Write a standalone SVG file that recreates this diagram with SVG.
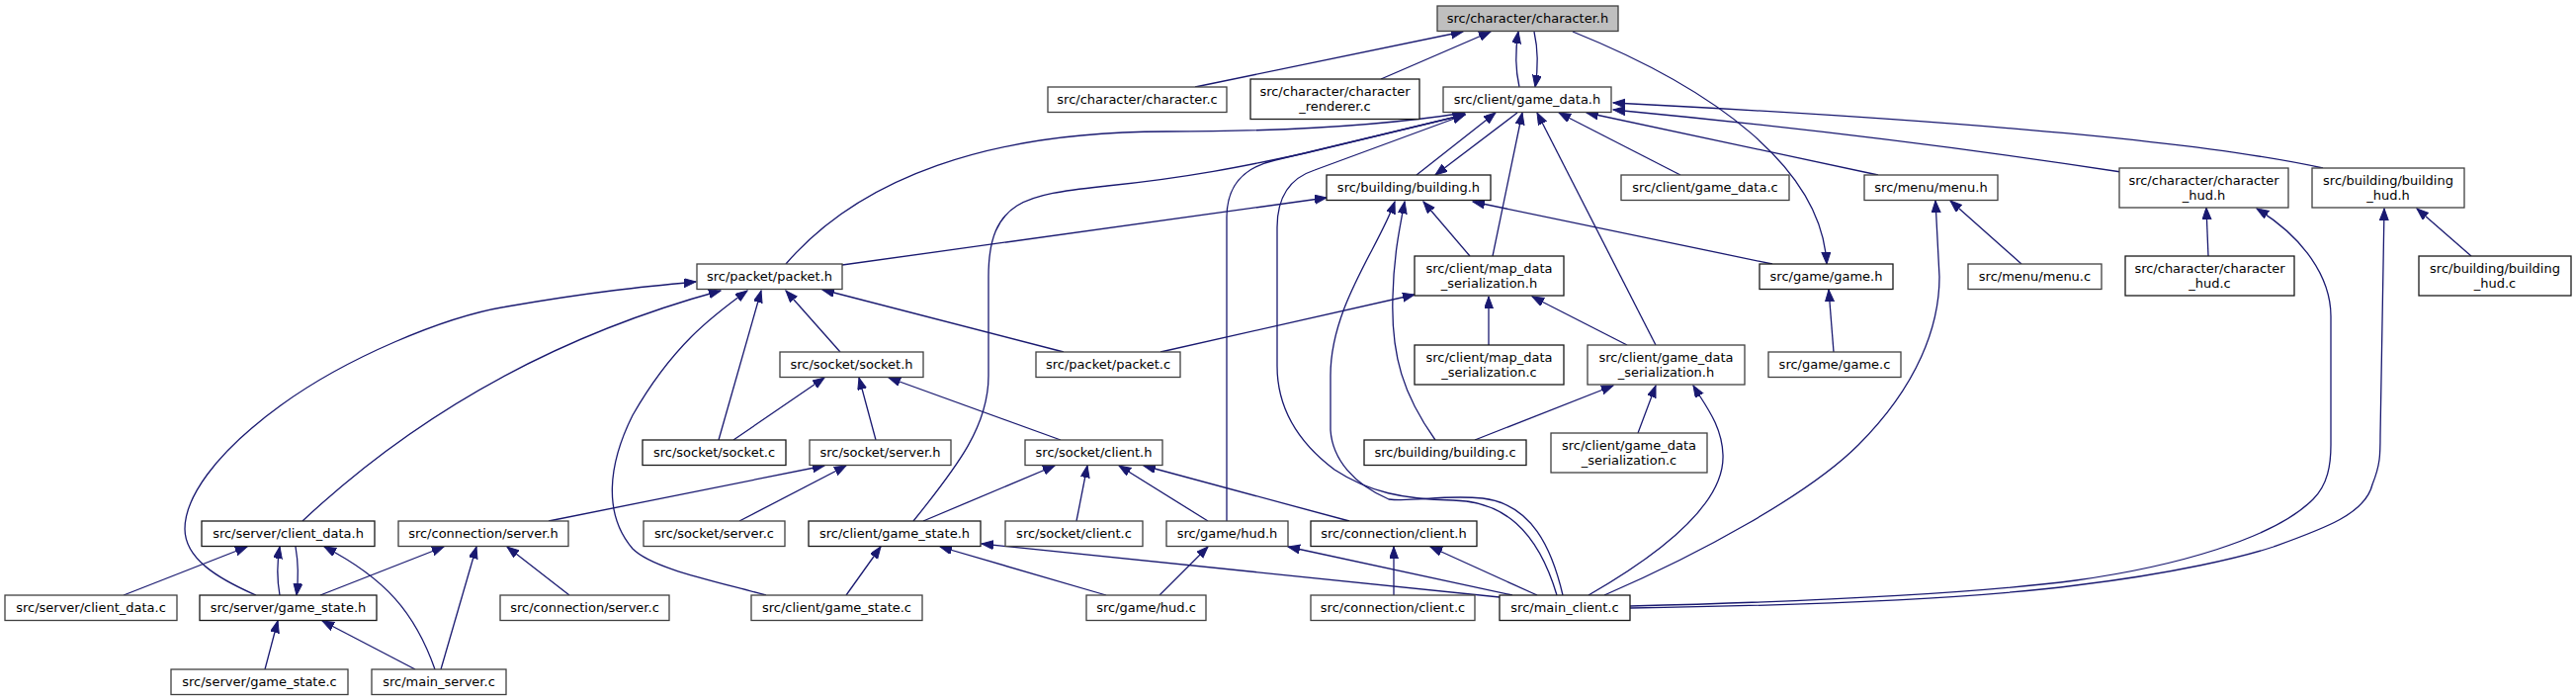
<svg xmlns="http://www.w3.org/2000/svg" width="2606" height="708" viewBox="0 0 2606 708">
<style>
.n rect{fill:#fff;stroke:#404040;stroke-width:1.3}
.n.k rect{stroke:#1a1a1a}
.n.root rect{fill:#bfbfbf}
.n text{font-family:"DejaVu Sans",sans-serif;font-size:13px;fill:#000;text-anchor:middle}
#edges path{fill:none;stroke:#191970;stroke-width:1.3;marker-end:url(#ah)}
</style>
<defs>
<marker id="ah" markerWidth="13" markerHeight="10" refX="12" refY="4.5" orient="auto" markerUnits="userSpaceOnUse">
<path d="M0,0 L12,4.5 L0,9 z" fill="#191970" stroke="#191970" stroke-width="1"/>
</marker>
</defs>
<rect width="2606" height="708" fill="#fff"/>
<g id="edges">
<path d="M1209,88 L1480,32"/>
<path d="M1397,80 L1508,32"/>
<path d="M1537,88 C1533,70 1533,50 1536,32"/>
<path d="M1552,32 C1556,50 1556,70 1553,88"/>
<path d="M1591,32 C1735,90 1843,170 1848,267"/>
<path d="M1433,177 L1513,114"/>
<path d="M1535,114 L1452,177"/>
<path d="M1700,177 L1577,114"/>
<path d="M1900,177 L1605,114"/>
<path d="M2146,174 C1990,150 1800,127 1632,111"/>
<path d="M2350,170 C2250,148 2050,125 1632,104"/>
<path d="M795,267 C870,180 1000,133 1180,133 C1300,133 1400,127 1482,114"/>
<path d="M924,527 C970,470 1000,430 1000,380 L1000,280 C1000,200 1040,197 1120,188 C1200,180 1260,168 1320,155 L1482,116"/>
<path d="M1241,527 L1241,220 C1241,190 1255,170 1290,162 L1482,116"/>
<path d="M1575,602 C1555,535 1520,507 1470,506 C1420,505 1385,498 1350,475 C1310,445 1292,410 1292,370 L1292,230 C1292,200 1305,180 1330,172 L1482,116"/>
<path d="M1510,259 L1540,114"/>
<path d="M1675,349 L1555,114"/>
<path d="M852,268 L1342,200"/>
<path d="M1793,267 L1490,204"/>
<path d="M1487,259 L1440,204"/>
<path d="M1452,445 C1420,400 1407,360 1409,300 C1410,260 1415,235 1421,204"/>
<path d="M1581,602 C1570,555 1550,510 1500,504 C1460,500 1430,508 1405,505 C1370,490 1348,465 1346,435 L1346,380 C1346,310 1395,250 1411,204"/>
<path d="M1174,356 L1431,298"/>
<path d="M1506,349 L1506,300"/>
<path d="M1646,349 L1550,300"/>
<path d="M1492,445 L1632,390"/>
<path d="M1657,438 L1675,390"/>
<path d="M1607,602 C1680,560 1745,510 1743,460 C1742,430 1725,410 1713,390"/>
<path d="M1855,356 L1850,293"/>
<path d="M2045,267 L1973,203"/>
<path d="M1623,602 C1720,560 1830,500 1880,450 C1940,390 1962,330 1962,280 L1958,203"/>
<path d="M2234,259 L2232,210"/>
<path d="M1649,613 C1850,608 2000,600 2100,587 C2200,573 2300,545 2340,505 C2355,490 2358,470 2358,450 L2358,320 C2358,280 2330,240 2283,211"/>
<path d="M1649,615 C1850,612 2000,605 2100,592 C2200,580 2270,563 2300,553 C2350,535 2393,520 2400,490 C2408,470 2408,460 2408,440 L2412,211"/>
<path d="M2500,259 L2445,211"/>
<path d="M259,602 C220,585 187,565 187,535 C187,505 215,460 284,410 C350,362 450,320 513,310 C600,295 650,290 704,285"/>
<path d="M306,527 C420,420 560,340 729,294"/>
<path d="M775,602 C720,587 660,575 640,555 C610,520 615,470 640,420 C680,350 720,320 756,294"/>
<path d="M727,445 L770,294"/>
<path d="M850,356 L795,294"/>
<path d="M1076,356 L832,293"/>
<path d="M742,445 L834,382"/>
<path d="M886,445 L869,382"/>
<path d="M1073,445 L899,382"/>
<path d="M555,527 L834,471"/>
<path d="M748,527 L856,471"/>
<path d="M934,527 L1067,471"/>
<path d="M1089,527 L1100,471"/>
<path d="M1222,527 L1132,471"/>
<path d="M1365,527 L1157,471"/>
<path d="M1410,602 L1410,553"/>
<path d="M1555,602 L1447,553"/>
<path d="M1173,602 L1222,553"/>
<path d="M1530,602 L1303,553"/>
<path d="M856,602 L891,553"/>
<path d="M1119,602 L951,553"/>
<path d="M1517,604 L993,550"/>
<path d="M125,602 L250,553"/>
<path d="M283,602 C280,585 280,570 283,553"/>
<path d="M299,553 C302,570 302,585 300,602"/>
<path d="M440,677 C420,620 390,585 328,553"/>
<path d="M324,602 L449,553"/>
<path d="M446,677 L482,553"/>
<path d="M576,602 L513,553"/>
<path d="M268,677 L281,628"/>
<path d="M420,677 L326,628"/>
</g>
<g id="character_h" class="n root"><rect x="1454" y="6" width="183" height="25.5"/><text x="1545.5" y="23">src/character/character.h</text></g>
<g id="character_c" class="n"><rect x="1060" y="88" width="181" height="25.5"/><text x="1150.5" y="105">src/character/character.c</text></g>
<g id="character_renderer_c" class="n k"><rect x="1265" y="80" width="171" height="40.5"/><text x="1350.5" y="96.5">src/character/character</text><text x="1350.5" y="111.5">_renderer.c</text></g>
<g id="game_data_h" class="n"><rect x="1460" y="88" width="170" height="25.5"/><text x="1545" y="105">src/client/game_data.h</text></g>
<g id="building_h" class="n k"><rect x="1342" y="177" width="166" height="25.5"/><text x="1425" y="194">src/building/building.h</text></g>
<g id="game_data_c" class="n"><rect x="1640" y="177" width="170" height="25.5"/><text x="1725" y="194">src/client/game_data.c</text></g>
<g id="menu_h" class="n"><rect x="1886" y="177" width="135" height="25.5"/><text x="1953.5" y="194">src/menu/menu.h</text></g>
<g id="character_hud_h" class="n"><rect x="2144" y="170" width="171" height="40"/><text x="2229.5" y="186.5">src/character/character</text><text x="2229.5" y="201.5">_hud.h</text></g>
<g id="building_hud_h" class="n"><rect x="2339" y="170" width="154" height="40"/><text x="2416" y="186.5">src/building/building</text><text x="2416" y="201.5">_hud.h</text></g>
<g id="packet_h" class="n"><rect x="705" y="267" width="147" height="25.5"/><text x="778.5" y="284">src/packet/packet.h</text></g>
<g id="map_data_serialization_h" class="n k"><rect x="1431" y="259" width="151" height="40"/><text x="1506.5" y="275.5">src/client/map_data</text><text x="1506.5" y="290.5">_serialization.h</text></g>
<g id="game_h" class="n k"><rect x="1780" y="267" width="135" height="25.5"/><text x="1847.5" y="284">src/game/game.h</text></g>
<g id="menu_c" class="n"><rect x="1991" y="267" width="135" height="25.5"/><text x="2058.5" y="284">src/menu/menu.c</text></g>
<g id="character_hud_c" class="n k"><rect x="2150" y="259" width="171" height="40"/><text x="2235.5" y="275.5">src/character/character</text><text x="2235.5" y="290.5">_hud.c</text></g>
<g id="building_hud_c" class="n k"><rect x="2447" y="259" width="154" height="40"/><text x="2524" y="275.5">src/building/building</text><text x="2524" y="290.5">_hud.c</text></g>
<g id="socket_h" class="n"><rect x="789" y="356" width="145" height="25.5"/><text x="861.5" y="373">src/socket/socket.h</text></g>
<g id="packet_c" class="n"><rect x="1048" y="356" width="146" height="25.5"/><text x="1121" y="373">src/packet/packet.c</text></g>
<g id="map_data_serialization_c" class="n k"><rect x="1431" y="349" width="151" height="40"/><text x="1506.5" y="365.5">src/client/map_data</text><text x="1506.5" y="380.5">_serialization.c</text></g>
<g id="game_data_serialization_h" class="n"><rect x="1606" y="349" width="159" height="40"/><text x="1685.5" y="365.5">src/client/game_data</text><text x="1685.5" y="380.5">_serialization.h</text></g>
<g id="game_c" class="n"><rect x="1789" y="356" width="134" height="25.5"/><text x="1856" y="373">src/game/game.c</text></g>
<g id="socket_c" class="n k"><rect x="650" y="445" width="145" height="25.5"/><text x="722.5" y="462">src/socket/socket.c</text></g>
<g id="socket_server_h" class="n"><rect x="819" y="445" width="143" height="25.5"/><text x="890.5" y="462">src/socket/server.h</text></g>
<g id="socket_client_h" class="n"><rect x="1037" y="445" width="139" height="25.5"/><text x="1106.5" y="462">src/socket/client.h</text></g>
<g id="building_c" class="n k"><rect x="1380" y="445" width="164" height="25.5"/><text x="1462" y="462">src/building/building.c</text></g>
<g id="game_data_serialization_c" class="n"><rect x="1569" y="438" width="158" height="40"/><text x="1648" y="454.5">src/client/game_data</text><text x="1648" y="469.5">_serialization.c</text></g>
<g id="server_client_data_h" class="n k"><rect x="204" y="527" width="175" height="25.5"/><text x="291.5" y="544">src/server/client_data.h</text></g>
<g id="connection_server_h" class="n"><rect x="403" y="527" width="172" height="25.5"/><text x="489" y="544">src/connection/server.h</text></g>
<g id="socket_server_c" class="n"><rect x="651" y="527" width="143" height="25.5"/><text x="722.5" y="544">src/socket/server.c</text></g>
<g id="client_game_state_h" class="n k"><rect x="818" y="527" width="174" height="25.5"/><text x="905" y="544">src/client/game_state.h</text></g>
<g id="socket_client_c" class="n"><rect x="1017" y="527" width="139" height="25.5"/><text x="1086.5" y="544">src/socket/client.c</text></g>
<g id="game_hud_h" class="n"><rect x="1180" y="527" width="123" height="25.5"/><text x="1241.5" y="544">src/game/hud.h</text></g>
<g id="connection_client_h" class="n k"><rect x="1326" y="527" width="168" height="25.5"/><text x="1410" y="544">src/connection/client.h</text></g>
<g id="server_client_data_c" class="n"><rect x="5" y="602" width="174" height="25.5"/><text x="92" y="619">src/server/client_data.c</text></g>
<g id="server_game_state_h" class="n k"><rect x="202" y="602" width="179" height="25.5"/><text x="291.5" y="619">src/server/game_state.h</text></g>
<g id="connection_server_c" class="n"><rect x="506" y="602" width="171" height="25.5"/><text x="591.5" y="619">src/connection/server.c</text></g>
<g id="client_game_state_c" class="n"><rect x="760" y="602" width="173" height="25.5"/><text x="846.5" y="619">src/client/game_state.c</text></g>
<g id="game_hud_c" class="n"><rect x="1099" y="602" width="121" height="25.5"/><text x="1159.5" y="619">src/game/hud.c</text></g>
<g id="connection_client_c" class="n"><rect x="1326" y="602" width="166" height="25.5"/><text x="1409" y="619">src/connection/client.c</text></g>
<g id="main_client_c" class="n k"><rect x="1517" y="602" width="132" height="25.5"/><text x="1583" y="619">src/main_client.c</text></g>
<g id="server_game_state_c" class="n"><rect x="173" y="677" width="179" height="25.5"/><text x="262.5" y="694">src/server/game_state.c</text></g>
<g id="main_server_c" class="n"><rect x="376" y="677" width="136" height="25.5"/><text x="444" y="694">src/main_server.c</text></g>
</svg>
